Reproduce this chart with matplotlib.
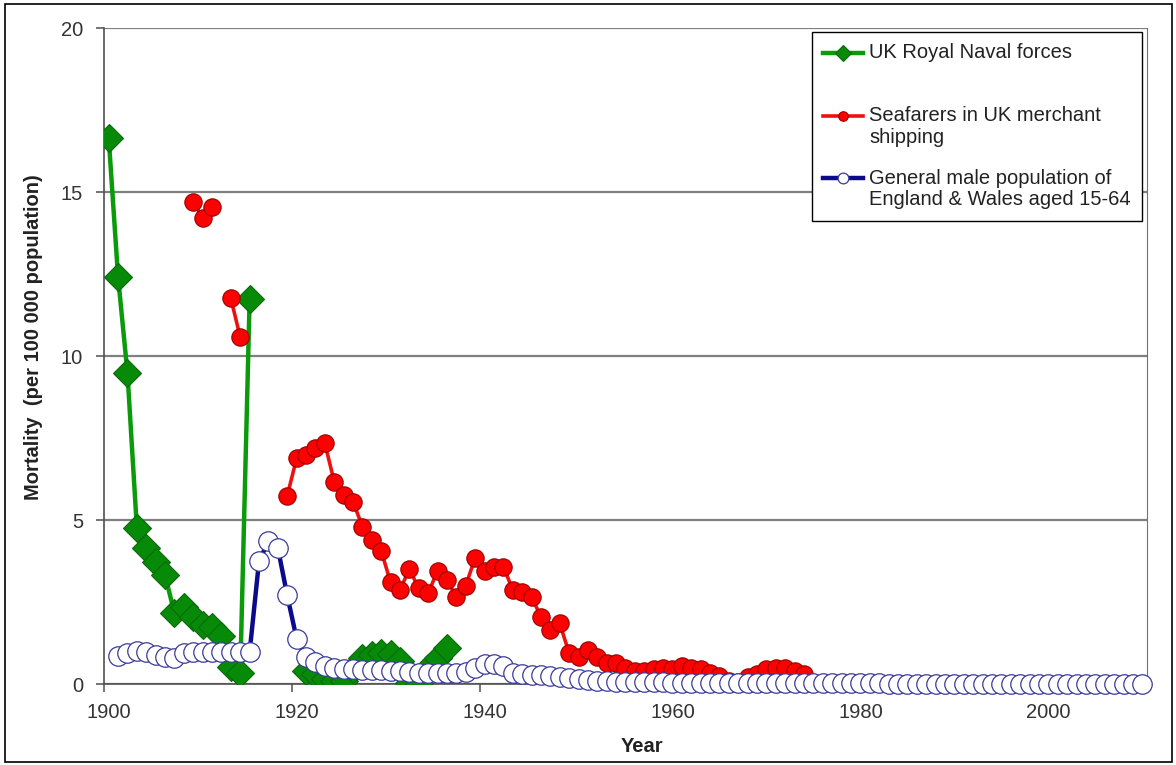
import numpy as np
import matplotlib
matplotlib.use("Agg")
import matplotlib.pyplot as plt
from matplotlib.patches import Rectangle
from matplotlib.legend_handler import HandlerLine2D
from matplotlib.transforms import ScaledTranslation

plt.rcParams['font.family'] = ['Liberation Sans', 'DejaVu Sans']

nan = np.nan

# ---------------- data ----------------
naval_years = list(range(1900, 1964))
naval_values = [16.65, 12.4, 9.47, 4.75, 4.14, 3.73, 3.32, 2.15, 2.36, 2.05,
                1.80, 1.75, 1.45, 0.53, 0.33, 11.75, nan, nan, nan, nan,
                nan, 0.40, 0.30, 0.15, 0.08, 0.08, 0.45, 0.78, 0.88, 0.95,
                0.92, 0.70, 0.03, 0.03, 0.50, 0.80, 1.10, nan, nan, nan,
                nan, nan, nan, nan, nan, nan, nan, nan, nan, nan,
                nan, nan, nan, 0.0, 0.0, 0.0, 0.0, 0.0, 0.0, nan,
                nan, nan, 0.0, 0.0]

merchant_years = list(range(1909, 1975))
merchant_values = [14.7, 14.2, 14.55, nan, 11.76, 10.57, nan, nan, nan, nan,
                   5.74, 6.88, 6.98, 7.19, 7.34, 6.17, 5.76, 5.56, 4.80, 4.39,
                   4.06, 3.10, 2.87, 3.50, 2.92, 2.77, 3.45, 3.17, 2.66, 3.00,
                   3.85, 3.45, 3.58, 3.58, 2.87, 2.81, 2.66, 2.05, 1.65, 1.85,
                   0.94, 0.83, 1.05, 0.83, 0.63, 0.65, 0.50, 0.40, 0.40, 0.45,
                   0.50, 0.45, 0.55, 0.50, 0.45, 0.35, 0.25, 0.10, 0.05, 0.20,
                   0.30, 0.45, 0.50, 0.50, 0.40, 0.30]

general_years = list(range(1901, 2011))
general_values = [0.85, 0.95, 1.00, 0.98, 0.88, 0.82, 0.78, 0.95, 0.98,
                  0.98, 0.98, 0.98, 0.98, 0.98, 0.98, 3.75, 4.35, 4.15, 2.70,
                  1.38, 0.83, 0.68, 0.55, 0.50, 0.45, 0.45, 0.42, 0.42, 0.42,
                  0.40, 0.40, 0.38, 0.35, 0.35, 0.35, 0.35, 0.35, 0.38, 0.50,
                  0.60, 0.62, 0.55, 0.35, 0.30, 0.28, 0.27, 0.25, 0.20, 0.17,
                  0.15, 0.13, 0.10, 0.08, 0.07, 0.06, 0.06, 0.05, 0.05, 0.05,
                  0.04, 0.04, 0.04, 0.04, 0.04, 0.03, 0.03, 0.03, 0.03, 0.03,
                  0.03, 0.03, 0.03, 0.02, 0.02, 0.02, 0.02, 0.02, 0.02, 0.02,
                  0.02, 0.02, 0.02, 0.01, 0.01, 0.01, 0.01, 0.01, 0.01, 0.01,
                  0.01, 0.01, 0.01, 0.01, 0.01, 0.01, 0.01, 0.01, 0.01, 0.01,
                  0.01, 0.01, 0.01, 0.01, 0.01, 0.01, 0.01, 0.01, 0.01, 0.01,
                  0.00]

series_labels = ["UK Royal Naval forces\n",
                 "Seafarers in UK merchant\nshipping",
                 "General male population of\nEngland & Wales aged 15-64"]
x_ticks = [1900, 1920, 1940, 1960, 1980, 2000]
y_ticks = [0, 5, 10, 15, 20]

# points are placed at mid-year
MID = 0.5

W, H = 1176, 765
fig = plt.figure(figsize=(W / 100, H / 100), dpi=100)
fig.patch.set_facecolor('white')
fig.add_artist(Rectangle((5 / W, 3 / H), (W - 9) / W, (H - 7) / H,
                         transform=fig.transFigure, fill=False,
                         edgecolor='black', lw=1.2))

ax = fig.add_axes([104 / W, 1 - 684 / H, (1147 - 104) / W, (684 - 28) / H])

ax.plot(np.array(naval_years) + MID, naval_values, color='#0a9a0a', lw=3.2,
        marker='D', ms=14, mfc='#078a07', mec='#0a6a0a', mew=0.8,
        label=series_labels[0], zorder=3)
ax.plot(np.array(merchant_years) + MID, merchant_values, color='#ee1111', lw=2.6,
        marker='o', ms=12.5, mfc='#ff0000', mec='#990000', mew=0.8,
        label=series_labels[1], zorder=4)
ax.plot(np.array(general_years) + MID, general_values, color='#0a0a8a', lw=3.2,
        marker='o', ms=14, mfc='white', mec='#3a3a9a', mew=0.9,
        label=series_labels[2], zorder=5, clip_on=False)

ax.set_xlim(1900, 2011)
ax.set_ylim(0, 20)
ax.set_xticks(x_ticks)
ax.set_yticks(y_ticks)
ax.yaxis.grid(True, color='#7f7f7f', lw=1.6, zorder=0)
ax.set_axisbelow(True)
ax.spines['top'].set_visible(False)
ax.spines['right'].set_color('#707070')
ax.spines['right'].set_linewidth(0.8)
ax.spines['left'].set_color('#505050')
ax.spines['bottom'].set_color('#505050')
ax.spines['left'].set_linewidth(1.2)
ax.spines['bottom'].set_linewidth(1.2)
ax.tick_params(axis='both', colors='#505050', labelcolor='#333333',
               labelsize=14.5, length=6, width=1.1)
ax.tick_params(axis='y', pad=9)
ax.tick_params(axis='x', pad=7.5)
ax.tick_params(axis='y', which='both', right=False)

shift = ScaledTranslation(5 / 100, 0, fig.dpi_scale_trans)
for lab in ax.get_xticklabels():
    lab.set_transform(lab.get_transform() + shift)

ax.set_xlabel('Year', fontsize=14.5, fontweight='bold', color='#222222')
ax.xaxis.set_label_coords((642 - 104) / 1043, -(737 - 684) / 656)
ax.set_ylabel('Mortality  (per 100 000 population)', fontsize=14.5,
              fontweight='bold', color='#222222')
ax.yaxis.set_label_coords((43 - 104) / 1043, (684 - 337) / 656)


class FirstLineHandler(HandlerLine2D):
    """Align the legend handle with the first line of a two-line label."""
    def __init__(self, up=0.0, **kw):
        super().__init__(**kw)
        self.up = up

    def create_artists(self, legend, orig_handle, xdescent, ydescent,
                       width, height, fontsize, trans):
        return super().create_artists(legend, orig_handle, xdescent,
                                      ydescent - 2 * self.up, width, height,
                                      fontsize, trans)


x0 = (812 - 104) / 1043
x1 = (1142 - 104) / 1043
ytop = (684 - 32) / 656
handles = ax.get_lines()
leg = ax.legend(handles=handles, labels=series_labels,
                loc='upper left', bbox_to_anchor=(x0, ytop - 0.3, x1 - x0, 0.3),
                mode='expand', fontsize=14.5, frameon=True, fancybox=False,
                edgecolor='black', framealpha=1, labelspacing=1.1,
                handlelength=2.0, handletextpad=0.3, markerscale=0.55,
                borderpad=0.55, borderaxespad=0,
                handler_map={h: FirstLineHandler(up=8.0) for h in handles})
leg.get_frame().set_linewidth(1.0)
for t in leg.get_texts():
    t.set_color('#222222')
    t.set_linespacing(1.18)

fig.savefig('out.png', dpi=100, facecolor='white')
